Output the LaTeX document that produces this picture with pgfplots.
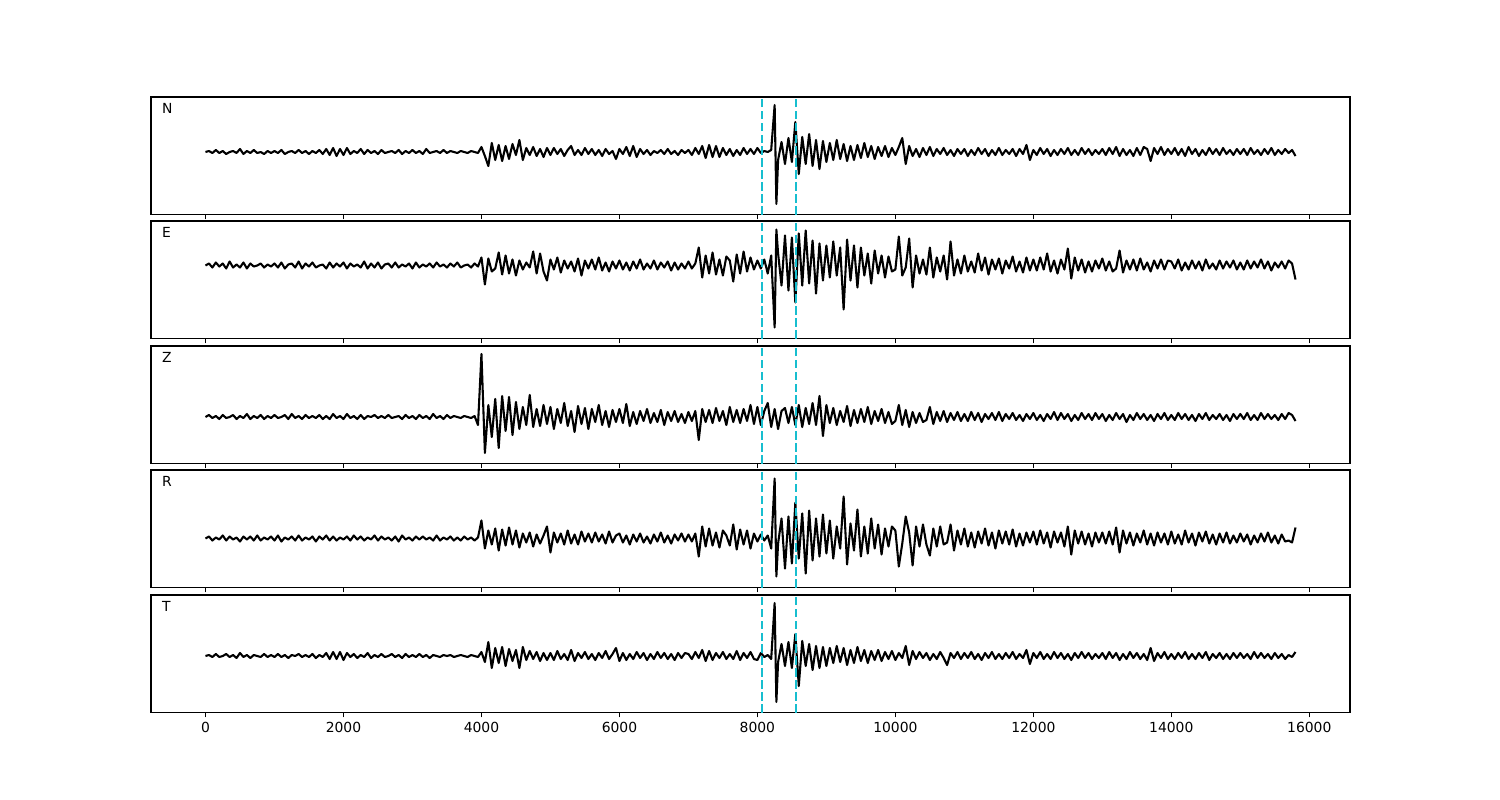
\documentclass[border=0pt]{standalone}
\usepackage{fontspec}
\setmainfont{DejaVu Sans}
\usepackage{pgfplots}
\usepackage{pgfplotstable}
\pgfplotsset{compat=1.18}
\definecolor{tabcyan}{RGB}{23,190,207}

% five components, sample every 50, amplitudes in figure pixels
\pgfplotstableread{
t N E Z R T
0 0 0 0 0 0
50 1 2 2 2 1
100 -1 -2 -1 -2 -1
150 2 3 1 1 2
200 -1 -1 -2 -1 -1
250 1 2 2 3 0
300 -2 -3 -1 -2 2
350 0 4 0 2 -1
400 1 -2 2 -1 1
450 -1 1 -2 1 -2
500 3 -2 1 -3 3
550 -2 3 -1 2 -1
600 1 -3 3 -1 1
650 -1 2 -2 2 -2
700 2 -1 1 -2 1
750 -1 0 -1 3 0
800 0 2 2 -2 -1
850 -2 -2 -2 1 2
900 1 1 1 -1 -1
950 -1 -1 -1 2 1
1000 1 2 2 -2 -1
1050 -1 -2 -1 3 2
1100 2 3 0 -3 -1
1150 -2 -3 2 1 1
1200 0 1 -2 -1 -2
1250 1 2 3 2 1
1300 -1 -2 -1 -2 0
1350 2 4 1 3 2
1400 -1 -3 -2 -2 -1
1450 1 2 2 1 1
1500 -2 -1 -1 -1 -1
1550 1 3 1 2 2
1600 -1 -2 -1 -3 -2
1650 2 0 2 2 1
1700 -2 1 -2 -1 -1
1750 3 -3 1 3 3
1800 -3 3 -2 -2 -3
1850 4 -2 3 2 4
1900 -4 2 -1 -2 -3
1950 3 -1 1 1 4
2000 -3 3 -2 -1 -4
2050 4 -3 3 2 3
2100 -2 2 -1 -2 -1
2150 1 -1 1 3 2
2200 -1 1 -2 -1 -2
2250 3 -2 2 2 1
2300 -2 4 -2 -2 -1
2350 2 -3 1 1 3
2400 -1 2 0 -1 -2
2450 1 -2 2 3 1
2500 -2 3 -1 -2 -1
2550 2 -3 1 2 2
2600 -1 1 -1 -1 -1
2650 0 2 2 1 0
2700 1 -2 -1 -2 2
2750 -1 3 0 2 -1
2800 2 -2 1 -3 1
2850 -2 1 -2 3 -2
2900 1 -1 2 -1 2
2950 -1 2 -1 1 -1
3000 2 -3 1 -2 1
3050 -1 3 -2 2 -1
3100 1 -2 2 -1 2
3150 -2 1 -1 2 -1
3200 3 -1 1 -1 1
3250 -1 2 -2 1 -2
3300 0 -2 3 -2 1
3350 1 3 -1 3 0
3400 -1 -1 1 -2 -1
3450 2 1 -2 1 1
3500 -1 -2 2 -1 0
3550 1 2 -1 2 1
3600 0 -1 1 -2 -1
3650 -1 3 0 1 0
3700 1 -2 -1 -2 1
3750 0 0 1 2 0
3800 -1 1 0 -1 -1
3850 1 -2 -1 1 1
3900 0 2 1 -2 0
3950 -1 -1 -8 1 -1
4000 5 8 63 18 4
4050 -4 -19 -36 -10 -6
4100 -14 7 12 8 14
4150 9 -6 -20 -6 -12
4200 -8 -3 18 10 8
4250 7 13 -31 -12 -7
4300 -9 -9 21 9 9
4350 6 10 -14 -7 -10
4400 -7 -8 20 11 7
4450 8 6 -18 -6 -5
4500 -3 -10 15 8 6
4550 12 5 -12 -9 -12
4600 -8 -4 10 5 9
4650 4 3 -8 -4 -4
4700 -3 -2 22 6 5
4750 5 14 -10 -8 -3
4800 -4 -8 8 4 4
4850 3 12 -9 -5 -5
4900 -5 -6 12 3 3
4950 4 -15 -7 12 -4
5000 -3 6 10 -14 3
5050 4 -4 -12 6 -4
5100 -2 8 8 -4 5
5150 3 -7 -6 5 -3
5200 -4 5 14 -6 2
5250 2 -3 -9 8 -4
5300 6 4 6 -5 6
5350 -3 -6 -15 4 -5
5400 2 7 11 -6 3
5450 -3 -10 -7 7 -2
5500 4 5 9 -3 4
5550 -2 -3 -12 5 -3
5600 3 6 8 -4 2
5650 -3 -4 -5 6 -4
5700 2 8 12 -3 3
5750 -4 -5 -8 4 -2
5800 3 3 6 -5 5
5850 -2 -6 -10 7 -3
5900 1 4 7 -4 2
5950 -7 -3 -5 3 8
6000 3 5 8 5 -5
6050 -2 -4 -6 -4 3
6100 5 3 13 3 -4
6150 -4 -5 -9 -6 2
6200 6 4 5 4 -3
6250 -5 -3 -7 -3 4
6300 3 6 6 5 -2
6350 -2 -4 -4 -4 3
6400 2 2 8 2 -4
6450 -3 -3 -6 -5 2
6500 1 5 4 4 -3
6550 -1 -4 -5 -3 4
6600 2 3 7 6 -2
6650 -2 -2 -8 -4 3
6700 3 4 5 3 -3
6750 -2 -5 -4 -5 2
6800 1 3 6 4 -4
6850 -3 -4 -5 -2 3
6900 2 2 3 5 -2
6950 -1 -3 -6 -3 3
7000 2 4 5 4 2
7050 -3 -3 -4 -3 -3
7100 4 2 6 5 4
7150 -2 18 -23 -18 -2
7200 6 -12 8 12 6
7250 -6 10 -5 -8 -5
7300 7 -8 7 10 5
7350 -5 13 -6 -7 -4
7400 6 -9 9 6 3
7450 -5 6 -4 -9 -2
7500 4 -10 6 8 4
7550 -3 9 -8 3 -3
7600 3 5 10 -7 2
7650 -4 -16 -5 14 -3
7700 2 11 7 -11 5
7750 -3 -8 -6 9 -4
7800 4 14 8 -6 3
7850 -2 -6 -4 8 -2
7900 3 8 12 -10 4
7950 -2 -4 -7 5 -3
8000 4 5 10 -3 -4
8050 -1 -3 -8 4 3
8100 1 6 6 -2 -1
8150 0 -8 14 3 1
8200 2 10 -10 -10 -3
8250 47 -62 8 60 53
8275 -52 36 -2 -38 -46
8300 -8 12 -12 -5 -6
8350 10 -20 6 20 12
8400 -12 30 9 -30 -10
8450 14 -25 -6 22 14
8500 -10 28 10 -25 -12
8550 30 -37 -8 36 22
8600 -22 32 12 -20 -30
8650 15 -20 -10 25 15
8700 -12 35 9 -35 -10
8750 18 -18 -7 28 12
8800 -14 25 14 -22 -14
8850 12 -28 -8 20 10
8900 -17 22 21 -18 -12
8950 11 -15 -19 24 9
9000 -10 20 12 -15 -10
9050 9 -12 -6 18 8
9100 -8 24 9 -20 -7
9150 12 -10 -8 12 10
9200 -7 18 6 -10 -6
9250 8 -44 -5 42 8
9300 -9 26 11 -26 -9
9350 6 -15 -9 15 6
9400 -8 20 7 -12 -7
9450 7 -22 -6 29 9
9500 -6 18 8 -18 -5
9550 9 -10 -5 12 6
9600 -5 12 10 -15 -7
9650 6 -18 -7 20 5
9700 -7 15 6 -10 -4
9750 5 -8 -4 14 6
9800 -4 10 8 -16 -5
9850 6 -12 -6 10 4
9900 -5 9 5 -8 -3
9950 4 -6 -7 12 5
10000 -3 -4 -4 8 -4
10050 5 29 12 -28 3
10100 14 -10 -8 -5 -2
10150 -12 -2 7 22 10
10200 6 27 -10 6 -9
10250 -4 -22 5 -27 5
10300 3 10 -6 12 -3
10350 -5 -8 4 -8 4
10400 4 6 -5 14 -2
10450 -3 -9 -3 -6 3
10500 5 18 10 -17 -4
10550 -4 -12 -7 10 2
10600 3 8 5 -8 -3
10650 -2 -6 -4 12 4
10700 4 10 6 -6 -2
10750 -3 -14 -5 -4 -9
10800 2 24 4 14 3
10850 -4 -10 -3 -12 -2
10900 3 6 5 8 4
10950 -2 -8 -4 -6 -3
11000 3 10 3 10 3
11050 -4 -6 -4 -8 -2
11100 2 4 5 6 4
11150 -3 -7 -3 -9 -3
11200 4 12 4 7 2
11250 -2 -5 -5 -5 -4
11300 3 8 3 10 3
11350 -4 -9 -2 -7 -2
11400 2 6 4 6 4
11450 -3 -4 -3 -10 -3
11500 4 7 5 8 2
11550 -3 -8 -4 -5 -3
11600 2 5 3 7 3
11650 -2 -3 -2 -6 -2
11700 3 9 4 9 4
11750 -4 -6 -3 -8 -3
11800 3 4 2 5 2
11850 -2 -7 -4 -7 -2
11900 7 8 3 6 6
11950 -8 -5 -2 -4 -8
12000 2 6 4 7 3
12050 -3 -5 -3 -6 -2
12100 4 8 2 8 4
12150 -2 -4 -4 -5 -3
12200 3 12 3 6 2
12250 -4 -6 -2 -9 -3
12300 2 5 5 7 4
12350 -3 -8 -3 -4 -2
12400 3 6 4 6 3
12450 -2 -4 -2 -8 -3
12500 4 17 3 12 2
12550 -3 -13 -4 -16 -4
12600 2 8 2 8 3
12650 -3 -5 -3 -5 -2
12700 4 6 4 7 4
12750 -2 -7 -2 -6 -2
12800 3 4 3 5 3
12850 -3 -6 -3 -8 -3
12900 2 5 4 6 2
12950 -2 -3 -2 -4 -2
13000 3 7 3 6 3
13050 -3 -5 -4 -5 -3
13100 4 4 2 7 4
13150 -2 -6 -3 -6 -2
13200 5 -3 4 11 3
13250 -4 15 -2 -14 -4
13300 3 -7 3 8 2
13350 -3 5 -5 -5 -3
13400 2 -4 2 6 4
13450 -4 6 -3 -7 -2
13500 4 -5 4 5 3
13550 -3 7 -2 -4 -3
13600 5 -4 3 8 2
13650 3 3 -3 -6 -4
13700 -9 -6 2 5 8
13750 4 5 -4 -7 -5
13800 -2 -3 3 6 3
13850 5 6 -2 -4 -2
13900 -3 -4 4 5 4
13950 3 5 -3 -6 -3
14000 -2 4 2 7 2
14050 4 -3 -3 -5 -3
14100 -3 6 4 4 3
14150 3 -5 -2 -6 -2
14200 -4 3 3 8 4
14250 5 -4 -3 -4 -3
14300 -2 5 2 5 2
14350 3 -3 -4 -7 -3
14400 -4 4 3 6 3
14450 2 -5 -2 -3 -2
14500 -3 6 4 7 4
14550 4 -3 -3 -5 -4
14600 -2 2 2 4 2
14650 3 -4 -2 -6 -2
14700 -3 5 3 5 3
14750 4 -3 -3 -4 -3
14800 -2 4 2 6 2
14850 2 -2 -4 -5 -3
14900 -3 5 3 3 3
14950 3 -4 -2 -4 -2
15000 -2 3 3 5 3
15050 3 -4 -2 -3 -2
15100 -3 5 4 4 2
15150 4 -3 -3 -6 -3
15200 -2 4 2 3 4
15250 2 -2 -3 -4 -2
15300 -3 6 4 5 3
15350 3 -3 -2 -3 -2
15400 -2 4 3 6 2
15450 4 -5 -2 -4 -3
15500 -3 3 2 3 3
15550 2 -2 -3 -5 -2
15600 -2 4 3 4 2
15650 3 -3 -2 -3 -3
15700 -1 5 4 -2 1
15750 2 2 2 -4 -1
15800 -4 -14 -4 11 4
}\traces

\pgfplotsset{
  trace/.style={
    scale only axis, width=863.28pt, height=84.6pt,
    anchor=north west,
    xmin=-790, xmax=16590,
    xtick={0,2000,...,16000},
    scaled x ticks=false,
    ytick=\empty,
    tick pos=left,
    tick align=outside,
    major tick length=3.5pt,
    every tick/.style={black, line width=0.8pt},
    axis line style={line width=0.8pt},
    /pgf/number format/assume math mode=true,
    xticklabel style={/pgf/number format/1000 sep={}, font=\fontsize{10}{12}\selectfont},
  },
  sig/.style={black, line width=1.5pt, line join=round, no markers},
  pick/.style={tabcyan, line width=1.9pt, dash pattern=on 6pt off 2.6pt, no markers},
}
\tikzset{lbl/.style={anchor=base west, font=\fontsize{10}{12}\selectfont}}

\begin{document}
\begin{tikzpicture}
\path[use as bounding box] (-108.72pt,69.84pt) rectangle (971.28pt,-506.16pt);

\begin{axis}[trace, at={(0pt,0pt)}, ymin=-62.5, ymax=55, xticklabels={}]
  \addplot[sig] table[x=t, y=N] {\traces};
  \addplot[pick] coordinates {(8065,-62.5) (8065,55)};
  \addplot[pick] coordinates {(8560,-62.5) (8560,55)};
  \node[lbl] at ([xshift=4.4pt,yshift=-11.9pt]rel axis cs:0,1) {N};
\end{axis}

\begin{axis}[trace, at={(0pt,-89.28pt)}, ymin=-73, ymax=44.5, xticklabels={}]
  \addplot[sig] table[x=t, y=E] {\traces};
  \addplot[pick] coordinates {(8065,-73) (8065,44.5)};
  \addplot[pick] coordinates {(8560,-73) (8560,44.5)};
  \node[lbl] at ([xshift=4.4pt,yshift=-11.9pt]rel axis cs:0,1) {E};
\end{axis}

\begin{axis}[trace, at={(0pt,-179.28pt)}, ymin=-46.5, ymax=71, xticklabels={}]
  \addplot[sig] table[x=t, y=Z] {\traces};
  \addplot[pick] coordinates {(8065,-46.5) (8065,71)};
  \addplot[pick] coordinates {(8560,-46.5) (8560,71)};
  \node[lbl] at ([xshift=4.4pt,yshift=-11.9pt]rel axis cs:0,1) {Z};
\end{axis}

\begin{axis}[trace, at={(0pt,-268.56pt)}, ymin=-49, ymax=68.5, xticklabels={}]
  \addplot[sig] table[x=t, y=R] {\traces};
  \addplot[pick] coordinates {(8065,-49) (8065,68.5)};
  \addplot[pick] coordinates {(8560,-49) (8560,68.5)};
  \node[lbl] at ([xshift=4.4pt,yshift=-11.9pt]rel axis cs:0,1) {R};
\end{axis}

\begin{axis}[trace, at={(0pt,-358.56pt)}, ymin=-56.5, ymax=61]
  \addplot[sig] table[x=t, y=T] {\traces};
  \addplot[pick] coordinates {(8065,-56.5) (8065,61)};
  \addplot[pick] coordinates {(8560,-56.5) (8560,61)};
  \node[lbl] at ([xshift=4.4pt,yshift=-11.9pt]rel axis cs:0,1) {T};
\end{axis}
\end{tikzpicture}
\end{document}
